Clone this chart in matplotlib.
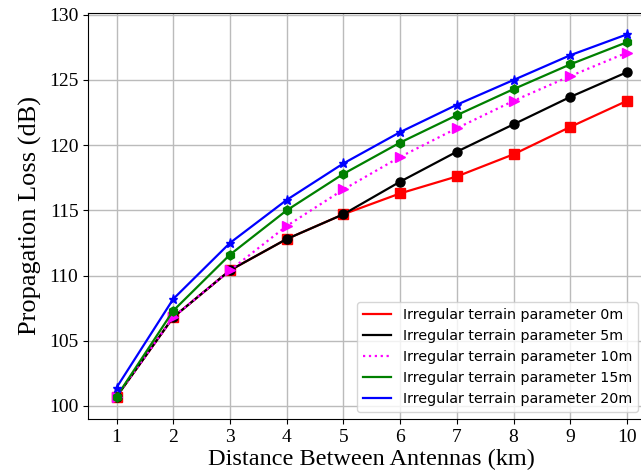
import matplotlib
matplotlib.use("Agg")
import matplotlib.pyplot as plt

distance_km = [1, 2, 3, 4, 5, 6, 7, 8, 9, 10]

loss_0m = [100.7, 106.8, 110.4, 112.8, 114.7, 116.3, 117.6, 119.3, 121.4, 123.4]
loss_5m = [100.7, 106.8, 110.4, 112.8, 114.7, 117.2, 119.5, 121.6, 123.7, 125.6]
loss_10m = [100.7, 106.8, 110.4, 113.8, 116.6, 119.1, 121.3, 123.4, 125.3, 127.1]
loss_15m = [100.7, 107.3, 111.6, 115.0, 117.8, 120.2, 122.3, 124.3, 126.2, 127.9]
loss_20m = [101.4, 108.2, 112.5, 115.8, 118.6, 121.0, 123.1, 125.0, 126.9, 128.5]

series = [
    ("Irregular terrain parameter 0m", loss_0m, "red", "-", "s"),
    ("Irregular terrain parameter 5m", loss_5m, "black", "-", "o"),
    ("Irregular terrain parameter 10m", loss_10m, "magenta", ":", ">"),
    ("Irregular terrain parameter 15m", loss_15m, "green", "-", "h"),
    ("Irregular terrain parameter 20m", loss_20m, "blue", "-", "*"),
]

fig = plt.figure(figsize=(6.41, 4.75), dpi=100)
# axes run past the right edge, as in the reference crop
ax = fig.add_axes([0.1375, 0.118, 0.885, 0.855])

for label, vals, colour, ls, mk in series:
    ax.plot(distance_km, vals, color=colour, linestyle=ls, linewidth=1.6, label=label)
    ax.plot(distance_km, vals, color=colour, linestyle="none", marker=mk, markersize=6.5)

ax.set_xlim(0.5, 10.5)
ax.set_ylim(99.0, 130.15)
ax.set_xticks(distance_km)
ax.set_yticks([100, 105, 110, 115, 120, 125, 130])
ax.grid(True, color="#bbbbbb", linewidth=1.0)
ax.set_axisbelow(True)

serif = ["Liberation Serif", "DejaVu Serif"]
for t in ax.get_xticklabels() + ax.get_yticklabels():
    t.set_fontfamily(serif)
    t.set_fontsize(14)
ax.set_xlabel("Distance Between Antennas (km)", fontfamily=serif, fontsize=17.5, labelpad=2)
ax.set_ylabel("Propagation Loss (dB)", fontfamily=serif, fontsize=19, labelpad=5)

ax.legend(loc="lower left", bbox_to_anchor=(357 / 641, 1 - 412 / 475),
          bbox_transform=fig.transFigure, fontsize=10.3, handlelength=2.0,
          framealpha=0.8, borderaxespad=0)

fig.savefig("out.png", dpi=100)
